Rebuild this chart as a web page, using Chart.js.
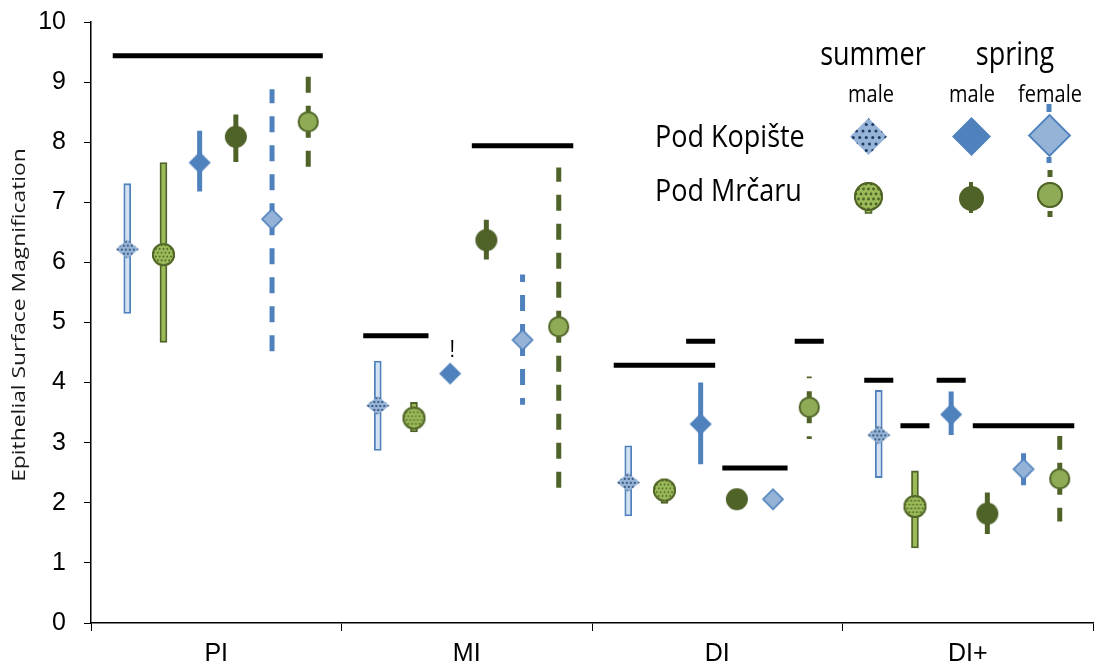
<!DOCTYPE html>
<html>
<head>
<meta charset="utf-8">
<script src="https://cdn.jsdelivr.net/npm/chart.js@4.4.0/dist/chart.umd.min.js"></script>
<style>
  html, body { margin: 0; padding: 0; background: #fff; overflow: hidden; }
  #wrap { width: 1097px; height: 667px; position: relative; }
</style>
</head>
<body>
<div id="wrap"><canvas id="chart"></canvas></div>
<script>
// Intestinal regions along the x axis
const categories = ['PI', 'MI', 'DI', 'DI+'];

// Pod Kopište, summer males
const kopSummerMale     = [6.22, 3.62, 2.34, 3.13];
const kopSummerMaleLow  = [5.15, 2.87, 1.78, 2.42];
const kopSummerMaleHigh = [7.31, 4.36, 2.95, 3.87];
// Pod Mrčaru, summer males
const mrcSummerMale     = [6.13, 3.41, 2.21, 1.94];
const mrcSummerMaleLow  = [4.67, 3.18, 1.99, 1.25];
const mrcSummerMaleHigh = [7.66, 3.67, 2.40, 2.53];
// Pod Kopište, spring males
const kopSpringMale     = [7.66, 4.15, 3.31, 3.47];
const kopSpringMaleLow  = [7.18, 4.05, 2.64, 3.13];
const kopSpringMaleHigh = [8.19, 4.25, 4.00, 3.85];
// Pod Mrčaru, spring males
const mrcSpringMale     = [8.09, 6.37, 2.06, 1.82];
const mrcSpringMaleLow  = [7.67, 6.05, 1.96, 1.48];
const mrcSpringMaleHigh = [8.46, 6.71, 2.16, 2.17];
// Pod Kopište, spring females
const kopSpringFemale     = [6.72, 4.71, 2.06, 2.56];
const kopSpringFemaleLow  = [4.50, 3.63, 1.98, 2.28];
const kopSpringFemaleHigh = [8.88, 5.80, 2.14, 2.83];
// Pod Mrčaru, spring females
const mrcSpringFemale     = [8.34, 4.93, 3.59, 2.40];
const mrcSpringFemaleLow  = [7.55, 2.21, 3.06, 1.69];
const mrcSpringFemaleHigh = [9.10, 7.58, 4.10, 3.11];

// Significance bars: level, region, first and last group slot spanned
const sigLevel    = [9.44, 4.78, 7.94, 4.29, 4.69, 2.58, 4.69, 4.04, 3.28, 4.04, 3.28];
const sigCategory = [0, 1, 1, 2, 2, 2, 2, 3, 3, 3, 3];
const sigFirst    = [0, 0, 3, 0, 2, 3, 5, 0, 1, 2, 3];
const sigLast     = [5, 1, 5, 2, 2, 4, 5, 0, 1, 2, 5];

// Note mark next to the MI spring-male Kopište point
const noteText = '!';
const noteCategory = 1;
const noteSlot = 2;
const noteValue = 4.43;

const BLUE = '#4f81bd';
const LIGHT_BLUE = '#95b3d7';
const PALE_BLUE = '#d3e1f1';
const NAVY = '#1f3a60';
const DARK_GREEN = '#4f6228';
const GREEN = '#9bbb59';
const MID_GREEN = '#8fab56';

const SLOT_STEP = 0.1445;
const SLOT_SHIFT = 0.006;
const SIG_OVERHANG = 0.058;
const slotX = (cat, slot) => cat + 0.5 + SLOT_SHIFT + (slot - 2.5) * SLOT_STEP;

// ---------- marker images ----------
function dotGrid(g, cx, cy, half, step, r, color) {
  g.fillStyle = color;
  let row = 0;
  for (let y = cy - half; y <= cy + half; y += step, row++) {
    const off = (row % 2) ? step / 2 : 0;
    for (let x = cx - half - step + off; x <= cx + half + step; x += step) {
      g.beginPath(); g.arc(x, y, r, 0, Math.PI * 2); g.fill();
    }
  }
}
function makeDiamond(w, h, fill, stroke, lw, dots) {
  const pad = 3;
  const c = document.createElement('canvas');
  c.width = Math.ceil(w + pad * 2); c.height = Math.ceil(h + pad * 2);
  const g = c.getContext('2d');
  const cx = c.width / 2, cy = c.height / 2;
  g.beginPath();
  g.moveTo(cx, cy - h / 2); g.lineTo(cx + w / 2, cy);
  g.lineTo(cx, cy + h / 2); g.lineTo(cx - w / 2, cy); g.closePath();
  g.fillStyle = fill; g.fill();
  if (dots) { g.save(); g.clip(); dotGrid(g, cx, cy, Math.max(w, h) / 2, dots.step, dots.r, dots.color); g.restore(); }
  if (stroke) { g.lineWidth = lw; g.strokeStyle = stroke; g.lineJoin = 'miter'; g.stroke(); }
  return c;
}
function makeCircle(d, fill, stroke, lw, dots) {
  const pad = 3;
  const c = document.createElement('canvas');
  c.width = Math.ceil(d + pad * 2); c.height = Math.ceil(d + pad * 2);
  const g = c.getContext('2d');
  const cx = c.width / 2, cy = c.height / 2, r = d / 2;
  g.beginPath(); g.arc(cx, cy, r, 0, Math.PI * 2);
  g.fillStyle = fill; g.fill();
  if (dots) { g.save(); g.clip(); dotGrid(g, cx, cy, r - 2, dots.step, dots.r, dots.color); g.restore(); }
  if (stroke) { g.beginPath(); g.arc(cx, cy, r - lw / 2, 0, Math.PI * 2); g.lineWidth = lw; g.strokeStyle = stroke; g.stroke(); }
  return c;
}

const mk = {
  kopSummer: makeDiamond(23, 19, LIGHT_BLUE, null, 0, { step: 4, r: 0.95, color: NAVY }),
  mrcSummer: makeCircle(23, GREEN, DARK_GREEN, 1.8, { step: 3.8, r: 0.95, color: DARK_GREEN }),
  kopSpringM: makeDiamond(22, 22, BLUE, null, 0),
  mrcSpringM: makeCircle(22, DARK_GREEN, null, 0),
  kopSpringF: makeDiamond(20, 20, LIGHT_BLUE, BLUE, 1.6),
  mrcSpringF: makeCircle(21, MID_GREEN, DARK_GREEN, 1.8)
};
const legendMk = {
  kopSummer: makeDiamond(37, 37, LIGHT_BLUE, null, 0, { step: 6.5, r: 1.5, color: NAVY }),
  mrcSummer: makeCircle(29, GREEN, DARK_GREEN, 2, { step: 5, r: 1.4, color: DARK_GREEN }),
  kopSpringM: makeDiamond(39, 39, BLUE, null, 0),
  mrcSpringM: makeCircle(25, DARK_GREEN, null, 0),
  kopSpringF: makeDiamond(41, 41, LIGHT_BLUE, BLUE, 1.8),
  mrcSpringF: makeCircle(26, MID_GREEN, DARK_GREEN, 2)
};

// ---------- series table ----------
const series = [
  { mean: kopSummerMale, low: kopSummerMaleLow, high: kopSummerMaleHigh, slot: 0, bar: 'hollow', edge: BLUE, inner: PALE_BLUE, marker: mk.kopSummer },
  { mean: mrcSummerMale, low: mrcSummerMaleLow, high: mrcSummerMaleHigh, slot: 1, bar: 'hollow', edge: DARK_GREEN, inner: GREEN, marker: mk.mrcSummer },
  { mean: kopSpringMale, low: kopSpringMaleLow, high: kopSpringMaleHigh, slot: 2, bar: 'solid', edge: BLUE, marker: mk.kopSpringM },
  { mean: mrcSpringMale, low: mrcSpringMaleLow, high: mrcSpringMaleHigh, slot: 3, bar: 'solid', edge: DARK_GREEN, marker: mk.mrcSpringM },
  { mean: kopSpringFemale, low: kopSpringFemaleLow, high: kopSpringFemaleHigh, slot: 4, bar: 'dashed', edge: BLUE, marker: mk.kopSpringF },
  { mean: mrcSpringFemale, low: mrcSpringFemaleLow, high: mrcSpringFemaleHigh, slot: 5, bar: 'dashed', edge: DARK_GREEN, marker: mk.mrcSpringF }
];

const datasets = [];
datasets.push({
  type: 'line',
  data: sigLevel.flatMap((lv, i) => [
    { x: slotX(sigCategory[i], sigFirst[i]) - SIG_OVERHANG, y: lv },
    { x: slotX(sigCategory[i], sigLast[i]) + SIG_OVERHANG, y: lv },
    { x: slotX(sigCategory[i], sigLast[i]) + SIG_OVERHANG, y: null }
  ]),
  borderColor: '#000', borderWidth: 5, borderCapStyle: 'butt',
  pointRadius: 0, spanGaps: false, fill: false, order: 3, xAxisID: 'xp', yAxisID: 'y'
});
series.forEach(s => {
  if (s.bar === 'hollow') {
    datasets.push({
      type: 'bar',
      data: categories.map((c, i) => ({ x: slotX(i, s.slot), y: [s.low[i], s.high[i]] })),
      backgroundColor: s.inner, borderColor: s.edge, borderWidth: 1.8, borderSkipped: false,
      grouped: false, barThickness: 7, maxBarThickness: 7, order: 2, xAxisID: 'xp', yAxisID: 'y'
    });
  } else {
    // each whisker runs outward from the mean, so dashes start at the point
    datasets.push({
      type: 'line',
      data: categories.flatMap((c, i) => {
        const x = slotX(i, s.slot);
        return [
          { x, y: s.mean[i] }, { x, y: s.high[i] }, { x, y: null },
          { x, y: s.mean[i] }, { x, y: s.low[i] }, { x, y: null }
        ];
      }),
      borderColor: s.edge, borderWidth: 5, borderCapStyle: 'butt',
      borderDash: s.bar === 'dashed' ? [16, 13] : [],
      pointRadius: 0, spanGaps: false, fill: false, order: 2, xAxisID: 'xp', yAxisID: 'y'
    });
  }
  datasets.push({
    type: 'line',
    data: categories.map((c, i) => ({ x: slotX(i, s.slot), y: s.mean[i] })),
    showLine: false, pointStyle: s.marker, pointRadius: 11, order: 1, xAxisID: 'xp', yAxisID: 'y'
  });
});

// ---------- text helpers ----------
function stretchedText(ctx, text, x, y, size, align, sy, family) {
  ctx.save();
  ctx.translate(x, y);
  ctx.scale(1, sy);
  ctx.font = size + 'px ' + (family || '"Open Sans"');
  ctx.textAlign = align;
  ctx.textBaseline = 'alphabetic';
  ctx.fillStyle = '#000';
  ctx.fillText(text, 0, 0);
  ctx.restore();
}
function stub(ctx, x, y1, y2, color, w) {
  ctx.save();
  ctx.strokeStyle = color; ctx.lineWidth = w; ctx.lineCap = 'butt';
  ctx.beginPath(); ctx.moveTo(x, y1); ctx.lineTo(x, y2); ctx.stroke();
  ctx.restore();
}

// Axis title, note mark and the site/season key
const decorations = {
  id: 'decorations',
  afterDraw(chart) {
    const ctx = chart.ctx;
    const a = chart.chartArea;
    const ys = chart.scales.y, xs = chart.scales.xp;

    // y axis title
    ctx.save();
    ctx.translate(20, 315);
    ctx.rotate(-Math.PI / 2);
    ctx.scale(1.27, 1);
    ctx.font = '18px "Open Sans"';
    ctx.textAlign = 'center';
    ctx.textBaseline = 'middle';
    ctx.fillStyle = '#1a1a1a';
    ctx.fillText('Epithelial Surface Magnification', 0, 0);
    ctx.restore();

    // note mark
    stretchedText(ctx, noteText, xs.getPixelForValue(slotX(noteCategory, noteSlot)) + 2,
      ys.getPixelForValue(noteValue), 20, 'center', 1.2, '"Liberation Sans", Arial, sans-serif');

    // key
    const R = a.right, T = a.top;
    stretchedText(ctx, 'summer', R - 220, T + 43, 27, 'center', 1.22);
    stretchedText(ctx, 'spring', R - 78, T + 43, 27, 'center', 1.22);
    stretchedText(ctx, 'male', R - 222, T + 80, 20, 'center', 1.15);
    stretchedText(ctx, 'male', R - 121, T + 80, 20, 'center', 1.15);
    stretchedText(ctx, 'female', R - 43, T + 80, 20, 'center', 1.15);
    stretchedText(ctx, 'Pod Kopište', R - 438, T + 125, 27, 'left', 1.15);
    stretchedText(ctx, 'Pod Mrčaru', R - 438, T + 179, 27, 'left', 1.15);

    const row1 = T + 114, row2 = T + 174;
    const c1 = R - 224.5, c2 = R - 122, c3 = R - 44;
    // error-bar stubs behind key markers
    stub(ctx, c3, T + 82, T + 90, BLUE, 5);
    stub(ctx, c3, T + 135, T + 141, BLUE, 5);
    stub(ctx, c2, row2 - 14, row2 + 17, DARK_GREEN, 4);
    stub(ctx, c3 + 1, T + 148, T + 155, DARK_GREEN, 5);
    stub(ctx, c3 + 1, T + 189, T + 195, DARK_GREEN, 5);
    ctx.save();
    ctx.fillStyle = GREEN; ctx.strokeStyle = DARK_GREEN; ctx.lineWidth = 1.5;
    ctx.fillRect(c1 - 3, row2 + 10, 6, 7); ctx.strokeRect(c1 - 3, row2 + 10, 6, 7);
    ctx.restore();

    const put = (img, x, y) => ctx.drawImage(img, Math.round(x - img.width / 2), Math.round(y - img.height / 2));
    put(legendMk.kopSummer, c1, row1);
    put(legendMk.kopSpringM, c2 + 0.5, row1);
    put(legendMk.kopSpringF, c3, row1 - 1);
    put(legendMk.mrcSummer, c1, row2);
    put(legendMk.mrcSpringM, c2, row2 + 2);
    put(legendMk.mrcSpringF, c3 + 1, row2 - 1);
  }
};

const tickFont = { family: '"Liberation Sans Narrow", "Arial Narrow", "Liberation Sans", sans-serif', size: 25 };
const noEdgePadding = s => { s.paddingLeft = 0; s.paddingRight = 0; s.paddingTop = 0; s.paddingBottom = 0; };

new Chart(document.getElementById('chart'), {
  type: 'line',
  data: { labels: categories, datasets },
  plugins: [decorations],
  options: {
    responsive: true,
    maintainAspectRatio: false,
    animation: false,
    events: [],
    layout: { autoPadding: false, padding: { top: 22, right: 4, left: 0, bottom: 0 } },
    plugins: { legend: { display: false }, tooltip: { enabled: false } },
    scales: {
      x: {
        type: 'category',
        labels: categories,
        offset: true,
        position: 'bottom',
        grid: { offset: true, drawOnChartArea: false, tickLength: 8, color: '#000', lineWidth: 1 },
        border: { color: '#000', width: 1.5 },
        ticks: { font: tickFont, color: '#000', padding: 8, maxRotation: 0 },
        afterFit(s) { s.height = 44; noEdgePadding(s); }
      },
      xp: {
        type: 'linear', min: 0, max: 4, display: false, offset: false,
        ticks: { display: false },
        afterFit(s) { s.height = 0; noEdgePadding(s); }
      },
      y: {
        type: 'linear',
        min: 0, max: 10,
        ticks: { stepSize: 1, font: tickFont, color: '#000', padding: 18 },
        grid: { drawOnChartArea: false, tickLength: 7, color: '#000', lineWidth: 1 },
        border: { color: '#000', width: 1.5 },
        afterFit(s) { s.width = 91; noEdgePadding(s); }
      }
    }
  }
});
</script>
</body>
</html>
